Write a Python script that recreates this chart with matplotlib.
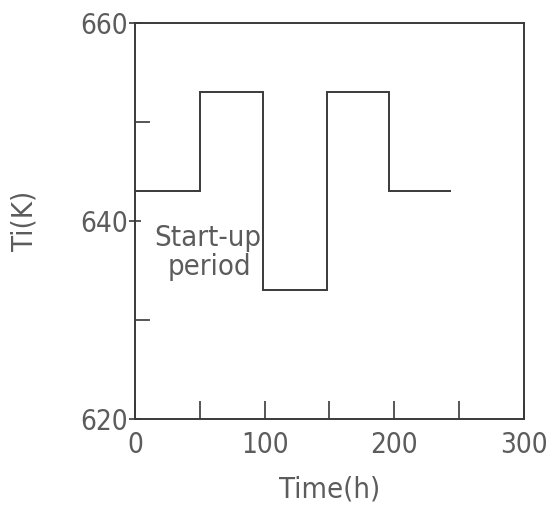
import matplotlib
matplotlib.use('Agg')
import matplotlib.pyplot as plt

# Step profile of inlet temperature over the run
edges_h = [0, 50, 99, 148, 196, 244]
temp_k = [643, 653, 633, 653, 643]

x_ticks = [0, 100, 200, 300]
x_minor = [50, 150, 250]
y_ticks = [620, 640, 660]
y_minor = [630, 650]

line_color = '#3a3a3a'
text_color = '#5c5c5c'

plt.rcParams['font.stretch'] = 'condensed'

fig = plt.figure(figsize=(5.56, 5.07), dpi=100)
ax = fig.add_axes([0.243, 0.174, 0.699, 0.781])

ax.stairs(temp_k, edges_h, baseline=None, color=line_color, linewidth=1.4)

ax.set_xlim(0, 300)
ax.set_ylim(620, 660)
ax.set_xticks(x_ticks)
ax.set_xticks(x_minor, minor=True)
ax.set_yticks(y_ticks)
ax.set_yticks(y_minor, minor=True)

ax.tick_params(axis='x', which='both', direction='in', length=13, width=1.2,
               color=line_color, labelsize=20, labelcolor=text_color, pad=9)
ax.tick_params(axis='y', which='major', direction='inout', length=8, width=1.2,
               color=line_color, labelsize=20, labelcolor=text_color, pad=1)
ax.tick_params(axis='y', which='minor', direction='in', length=11, width=1.2,
               color=line_color)

for spine in ax.spines.values():
    spine.set_color(line_color)
    spine.set_linewidth(1.4)

ax.text(56, 638.3, 'Start-up', ha='center', va='center',
        fontsize=21, color=text_color)
ax.text(57, 635.3, 'period', ha='center', va='center',
        fontsize=21, color=text_color)

ax.set_xlabel('Time(h)', fontsize=21, color=text_color, labelpad=12)
ax.set_ylabel('Ti(K)', fontsize=21, color=text_color, labelpad=30)

fig.savefig('out.png', dpi=100)
